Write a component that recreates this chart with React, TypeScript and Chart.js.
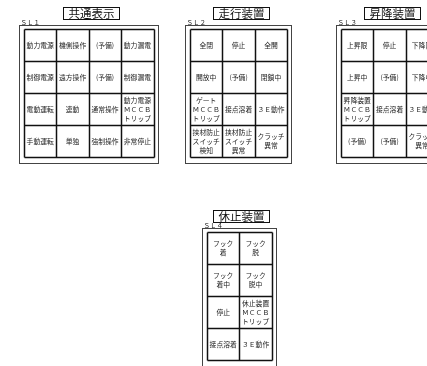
import { useEffect, useRef } from "react";
import { Chart, registerables } from "chart.js";

Chart.register(...registerables);

// ---- data ----
const panelIds = ["ＳＬ１", "ＳＬ２", "ＳＬ３", "ＳＬ４"];
const panelTitles = ["共通表示", "走行装置", "昇降装置", "休止装置"];

const sl1Cells = [
  ["動力電源", "機側操作", "(予備)", "動力漏電"],
  ["制御電源", "遠方操作", "(予備)", "制御漏電"],
  ["電動運転", "連動", "通常操作", "動力電源\nＭＣＣＢ\nトリップ"],
  ["手動運転", "単独", "強制操作", "非常停止"],
];
const sl2Cells = [
  ["全閉", "停止", "全開"],
  ["開放中", "(予備)", "閉鎖中"],
  ["ゲート\nＭＣＣＢ\nトリップ", "接点溶着", "３Ｅ動作"],
  ["挟材防止\nスイッチ\n検知", "挟材防止\nスイッチ\n異常", "クラッチ\n異常"],
];
const sl3Cells = [
  ["上昇限", "停止", "下降限"],
  ["上昇中", "(予備)", "下降中"],
  ["昇降装置\nＭＣＣＢ\nトリップ", "接点溶着", "３Ｅ動作"],
  ["(予備)", "(予備)", "クラッチ\n異常"],
];
const sl4Cells = [
  ["フック\n着", "フック\n脱"],
  ["フック\n着中", "フック\n脱中"],
  ["停止", "休止装置\nＭＣＣＢ\nトリップ"],
  ["接点溶着", "３Ｅ動作"],
];
const panelCells = [sl1Cells, sl2Cells, sl3Cells, sl4Cells];

// ---- layout (grid origin of each panel, in scale units) ----
const W = 427;
const H = 366;
const CELL_W = 32.4;
const CELL_H = 32;
const panelOrigins = [
  { x: 24, y: 29 },
  { x: 190, y: 29 },
  { x: 341, y: 29 },
  { x: 207, y: 232 },
];
const FONT = '"Noto Sans CJK JP", "Noto Sans", sans-serif';

type Pt = { x: number; y: number; label: string; r: number; c: number };

function buildPoints(p: number): Pt[] {
  const o = panelOrigins[p];
  const pts: Pt[] = [];
  panelCells[p].forEach((row, r) =>
    row.forEach((label, c) =>
      pts.push({
        x: o.x + (c + 0.5) * CELL_W,
        y: o.y + (r + 0.5) * CELL_H,
        label,
        r,
        c,
      })
    )
  );
  return pts;
}

const panelPlugin = {
  id: "panelPlugin",
  afterDatasetsDraw(chart: any) {
    const ctx: CanvasRenderingContext2D = chart.ctx;
    const xs = chart.scales.x;
    const ys = chart.scales.y;
    const px = (v: number) => xs.getPixelForValue(v);
    const py = (v: number) => ys.getPixelForValue(v);
    ctx.save();
    chart.data.datasets.forEach((ds: any, p: number) => {
      const o = panelOrigins[p];
      const rows = panelCells[p].length;
      const cols = panelCells[p][0].length;
      const gx0 = px(o.x);
      const gy0 = py(o.y);
      const gx1 = px(o.x + cols * CELL_W);
      const gy1 = py(o.y + rows * CELL_H);
      // outer frame
      const fx0 = Math.round(px(o.x - 5)) + 0.5;
      const fy0 = Math.round(py(o.y - 4.5)) + 0.5;
      const fx1 = Math.round(px(o.x + cols * CELL_W + 4)) + 0.5;
      const fy1 = Math.round(py(o.y + rows * CELL_H + 5.5)) + 0.5;
      ctx.strokeStyle = "#444";
      ctx.lineWidth = 1;
      ctx.strokeRect(fx0, fy0, fx1 - fx0, fy1 - fy0);

      // grid cells
      ctx.strokeStyle = "#111";
      ctx.lineWidth = 1.5;
      for (let c = 0; c <= cols; c++) {
        const x = Math.round(px(o.x + c * CELL_W)) + 0.5;
        ctx.beginPath();
        ctx.moveTo(x, Math.round(gy0) + 0.5);
        ctx.lineTo(x, Math.round(gy1) + 0.5);
        ctx.stroke();
      }
      for (let r = 0; r <= rows; r++) {
        const y = Math.round(py(o.y + r * CELL_H)) + 0.5;
        ctx.beginPath();
        ctx.moveTo(Math.round(gx0) + 0.5, y);
        ctx.lineTo(Math.round(gx1) + 0.5, y);
        ctx.stroke();
      }

      // cell texts from dataset elements
      const meta = chart.getDatasetMeta(p);
      ctx.fillStyle = "#222";
      ctx.font = `6.8px ${FONT}`;
      ctx.textAlign = "center";
      ctx.textBaseline = "middle";
      meta.data.forEach((el: any, i: number) => {
        const lines = ds.data[i].label.split("\n");
        const lh = 9;
        const start = el.y - ((lines.length - 1) * lh) / 2;
        lines.forEach((ln: string, k: number) => {
          ctx.fillText(ln, el.x, start + k * lh);
        });
      });

      // title box
      const cx = (gx0 + gx1) / 2 + 2;
      const tw = 56;
      const tx0 = Math.round(cx - tw / 2) + 0.5;
      const ty0 = Math.round(py(o.y - 22)) + 0.5;
      const th = 12;
      ctx.fillStyle = "#fff";
      ctx.fillRect(tx0, ty0, tw, th);
      ctx.strokeStyle = "#111";
      ctx.lineWidth = 1;
      ctx.strokeRect(tx0, ty0, tw, th);
      ctx.fillStyle = "#111";
      ctx.font = `11.5px ${FONT}`;
      ctx.textAlign = "center";
      ctx.textBaseline = "middle";
      ctx.fillText(panelTitles[p], tx0 + tw / 2, ty0 + th / 2 + 0.5);

      // SL id
      ctx.fillStyle = "#222";
      ctx.font = `6.5px ${FONT}`;
      ctx.textAlign = "left";
      ctx.textBaseline = "alphabetic";
      ctx.fillText(panelIds[p], fx0 + 1, fy0 - 1);
    });
    ctx.restore();
  },
};

export default function App() {
  const ref = useRef<HTMLCanvasElement>(null);
  useEffect(() => {
    if (!ref.current) return;
    const chart = new Chart(ref.current, {
      type: "scatter",
      data: {
        datasets: panelIds.map((id, p) => ({
          label: id,
          data: buildPoints(p),
          pointRadius: 0,
          pointHoverRadius: 0,
          showLine: false,
        })),
      },
      options: {
        animation: false,
        responsive: true,
        maintainAspectRatio: false,
        layout: { padding: 0 },
        events: [],
        plugins: {
          legend: { display: false },
          tooltip: { enabled: false },
          title: { display: false },
        },
        scales: {
          x: { type: "linear", min: 0, max: W, display: false },
          y: { type: "linear", min: 0, max: H, reverse: true, display: false },
        },
      },
      plugins: [panelPlugin],
    });
    return () => chart.destroy();
  }, []);
  return (
    <div
      style={{
        position: "fixed",
        left: 0,
        top: 0,
        width: W,
        height: H,
        background: "#fff",
      }}
    >
      <canvas ref={ref} />
    </div>
  );
}
